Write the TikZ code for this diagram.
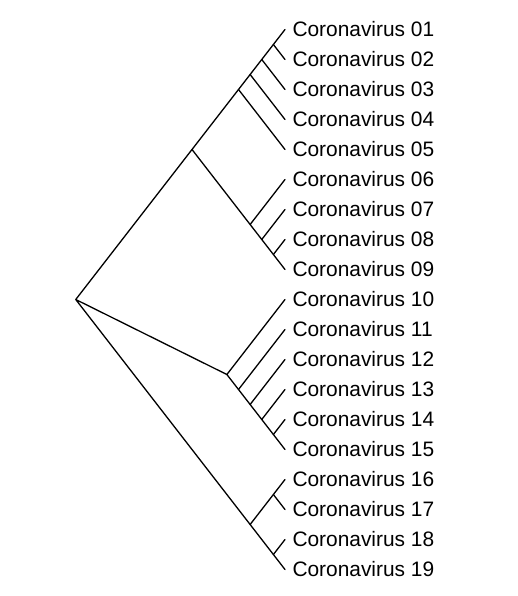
\documentclass[tikz,border=0pt]{standalone}
\usepackage{fontspec}
\setmainfont{Liberation Sans}
\begin{document}
\begin{tikzpicture}[x=1pt,y=-1pt,
  edge/.style={line width=1.3pt,line cap=round,line join=round},
  lab/.style={anchor=base west,inner sep=0pt,font=\fontsize{20.9}{24}\selectfont}]
\useasboundingbox (0,0) rectangle (517,596);
\foreach \i in {1,...,19}{
  \coordinate (t\i) at (285,{29.5+30*(\i-1)});
  \node[lab] (l\i) at (292.3,{36.7+30*(\i-1)}) {Coronavirus \ifnum\i<10 0\fi\i};
}
\coordinate (root) at (75.75,299.5);
\coordinate (n12) at (273.375,44.5);
\coordinate (n13) at (261.75,59.5);
\coordinate (n14) at (250.125,74.5);
\coordinate (n15) at (238.5,89.5);
\coordinate (n19) at (192,149.5);
\coordinate (n69) at (250.125,224.5);
\coordinate (n79) at (261.75,239.5);
\coordinate (n89) at (273.375,254.5);
\coordinate (n1015) at (226.875,374.5);
\coordinate (n1115) at (238.5,389.5);
\coordinate (n1215) at (250.125,404.5);
\coordinate (n1315) at (261.75,419.5);
\coordinate (n1415) at (273.375,434.5);
\coordinate (n1619) at (250.125,524.5);
\coordinate (n1617) at (273.375,494.5);
\coordinate (n1819) at (273.375,554.5);
\draw[edge] (root) -- (n19) (root) -- (n1015) (root) -- (n1619);
\draw[edge] (n19) -- (n15) (n19) -- (n69);
\draw[edge] (n15) -- (n14) (n15) -- (t5);
\draw[edge] (n14) -- (n13) (n14) -- (t4);
\draw[edge] (n13) -- (n12) (n13) -- (t3);
\draw[edge] (n12) -- (t1) (n12) -- (t2);
\draw[edge] (n69) -- (t6) (n69) -- (n79);
\draw[edge] (n79) -- (t7) (n79) -- (n89);
\draw[edge] (n89) -- (t8) (n89) -- (t9);
\draw[edge] (n1015) -- (t10) (n1015) -- (n1115);
\draw[edge] (n1115) -- (t11) (n1115) -- (n1215);
\draw[edge] (n1215) -- (t12) (n1215) -- (n1315);
\draw[edge] (n1315) -- (t13) (n1315) -- (n1415);
\draw[edge] (n1415) -- (t14) (n1415) -- (t15);
\draw[edge] (n1619) -- (n1617) (n1619) -- (n1819);
\draw[edge] (n1617) -- (t16) (n1617) -- (t17);
\draw[edge] (n1819) -- (t18) (n1819) -- (t19);
\end{tikzpicture}
\end{document}
